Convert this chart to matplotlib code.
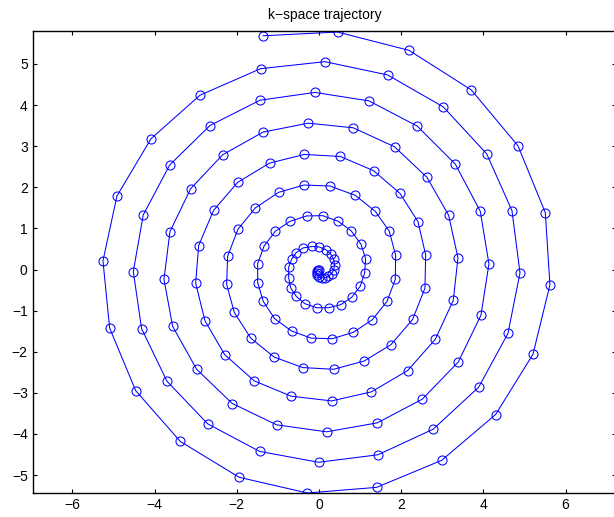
import matplotlib
matplotlib.use("Agg")
import matplotlib.pyplot as plt

# k-space trajectory samples, centre outwards
kx = [0.0, -0.025, -0.051, -0.059, -0.042, 0.001, 0.066, 0.147, 0.231, 0.307,
      0.361, 0.380, 0.356, 0.285, 0.167, 0.012, -0.166,
      -0.381, -0.56, -0.665, -0.737, -0.737, -0.689, -0.551, -0.34, -0.057, 0.235,
      0.527, 0.795, 1.006, 1.111, 1.135, 1.022, 0.779, 0.47, 0.09,
      -0.3, -0.706, -1.063, -1.338, -1.492, -1.49, -1.355, -1.078, -0.664, -0.19,
      0.325, 0.835, 1.298, 1.655, 1.857, 1.866, 1.711, 1.371, 0.884, 0.268,
      -0.365, -0.981, -1.55, -1.971, -2.222, -2.246, -2.06, -1.662, -1.095, -0.397,
      0.357, 1.103, 1.752, 2.279, 2.579, 2.596, 2.409, 1.971, 1.33, 0.519,
      -0.357, -1.2, -1.978, -2.563, -2.927, -3.0, -2.774, -2.295, -1.574, -0.673,
      0.308, 1.273, 2.157, 2.83, 3.268, 3.382, 3.155, 2.628, 1.841, 0.835,
      -0.26, -1.363, -2.343, -3.122, -3.625, -3.771, -3.56, -2.976, -2.109, -1.03,
      0.186, 1.419, 2.514, 3.39, 3.942, 4.136, 3.925, 3.317, 2.392, 1.217,
      -0.1, -1.435, -2.652, -3.633, -4.275, -4.517, -4.315, -3.698, -2.709, -1.443,
      -0.008, 1.436, 2.782, 3.885, 4.599, 4.891, 4.696, 4.08, 3.025, 1.671,
      0.146, -1.419, -2.895, -4.088, -4.915, -5.255, -5.093, -4.46, -3.374, -1.939,
      -0.284, 1.403, 2.985, 4.298, 5.207, 5.62, 5.507, 4.842, 3.706, 2.19,
      0.454, -1.355]
ky = [0.0, -0.009, -0.038, -0.082, -0.132, -0.175, -0.202, -0.203, -0.170, -0.102,
      -0.003, 0.118, 0.250, 0.378, 0.482, 0.547, 0.560,
      0.526, 0.405, 0.25, 0.056, -0.202, -0.445, -0.655, -0.833, -0.93, -0.93,
      -0.857, -0.68, -0.405, -0.09, 0.267, 0.614, 0.947, 1.172, 1.31,
      1.303, 1.172, 0.93, 0.566, 0.138, -0.324, -0.777, -1.197, -1.497, -1.67,
      -1.683, -1.529, -1.222, -0.777, -0.243, 0.347, 0.93, 1.415, 1.804, 2.031,
      2.055, 1.877, 1.497, 0.978, 0.323, -0.364, -1.044, -1.667, -2.128, -2.386,
      -2.427, -2.225, -1.828, -1.214, -0.453, 0.356, 1.165, 1.852, 2.403, 2.75,
      2.799, 2.589, 2.12, 1.44, 0.583, -0.332, -1.246, -2.07, -2.71, -3.083,
      -3.197, -2.978, -2.459, -1.699, -0.752, 0.284, 1.319, 2.241, 2.985, 3.447,
      3.56, 3.342, 2.791, 1.966, 0.922, -0.235, -1.383, -2.427, -3.26, -3.779,
      -3.949, -3.731, -3.155, -2.25, -1.109, 0.138, 1.415, 2.565, 3.488, 4.102,
      4.308, 4.118, 3.503, 2.541, 1.327, -0.049, -1.44, -2.718, -3.754, -4.426,
      -4.69, -4.507, -3.883, -2.864, -1.553, -0.083, 1.432, 2.816, 3.956, 4.733,
      5.056, 4.886, 4.24, 3.18, 1.788, 0.211, -1.424, -2.945, -4.183, -5.056,
      -5.437, -5.30, -4.643, -3.528, -2.063, -0.372, 1.383, 3.01, 4.369, 5.332,
      5.777, 5.687]

xticks = [-6, -4, -2, 0, 2, 4, 6]
yticks = [-5, -4, -3, -2, -1, 0, 1, 2, 3, 4, 5]
title = "k\u2212space trajectory"

plt.rcParams['font.family'] = ['Liberation Sans', 'DejaVu Sans']
plt.rcParams['axes.unicode_minus'] = True

fig = plt.figure(figsize=(6.14, 5.17), dpi=100)
W, H = 614.0, 517.0
ax = fig.add_axes([33.3 / W, (H - 492.7) / H, (615.5 - 33.3) / W, (492.7 - 31.3) / H])

ax.plot(kx, ky, '-o', color=(0, 0, 1), lw=0.75, ms=6.5, mfc='none',
        mec=(0, 0, 1), mew=0.75)

ax.set_xlim(-6.95, 7.215)
ax.set_ylim(-5.43, 5.795)
ax.set_xticks(xticks)
ax.set_yticks(yticks)
ax.tick_params(direction='in', top=True, right=True, length=3, width=0.8,
               labelsize=10, pad=4, colors='black')
for s in ax.spines.values():
    s.set_linewidth(1.0)
ax.set_title(title, fontsize=10, pad=9)

fig.savefig("out.png", dpi=100)
